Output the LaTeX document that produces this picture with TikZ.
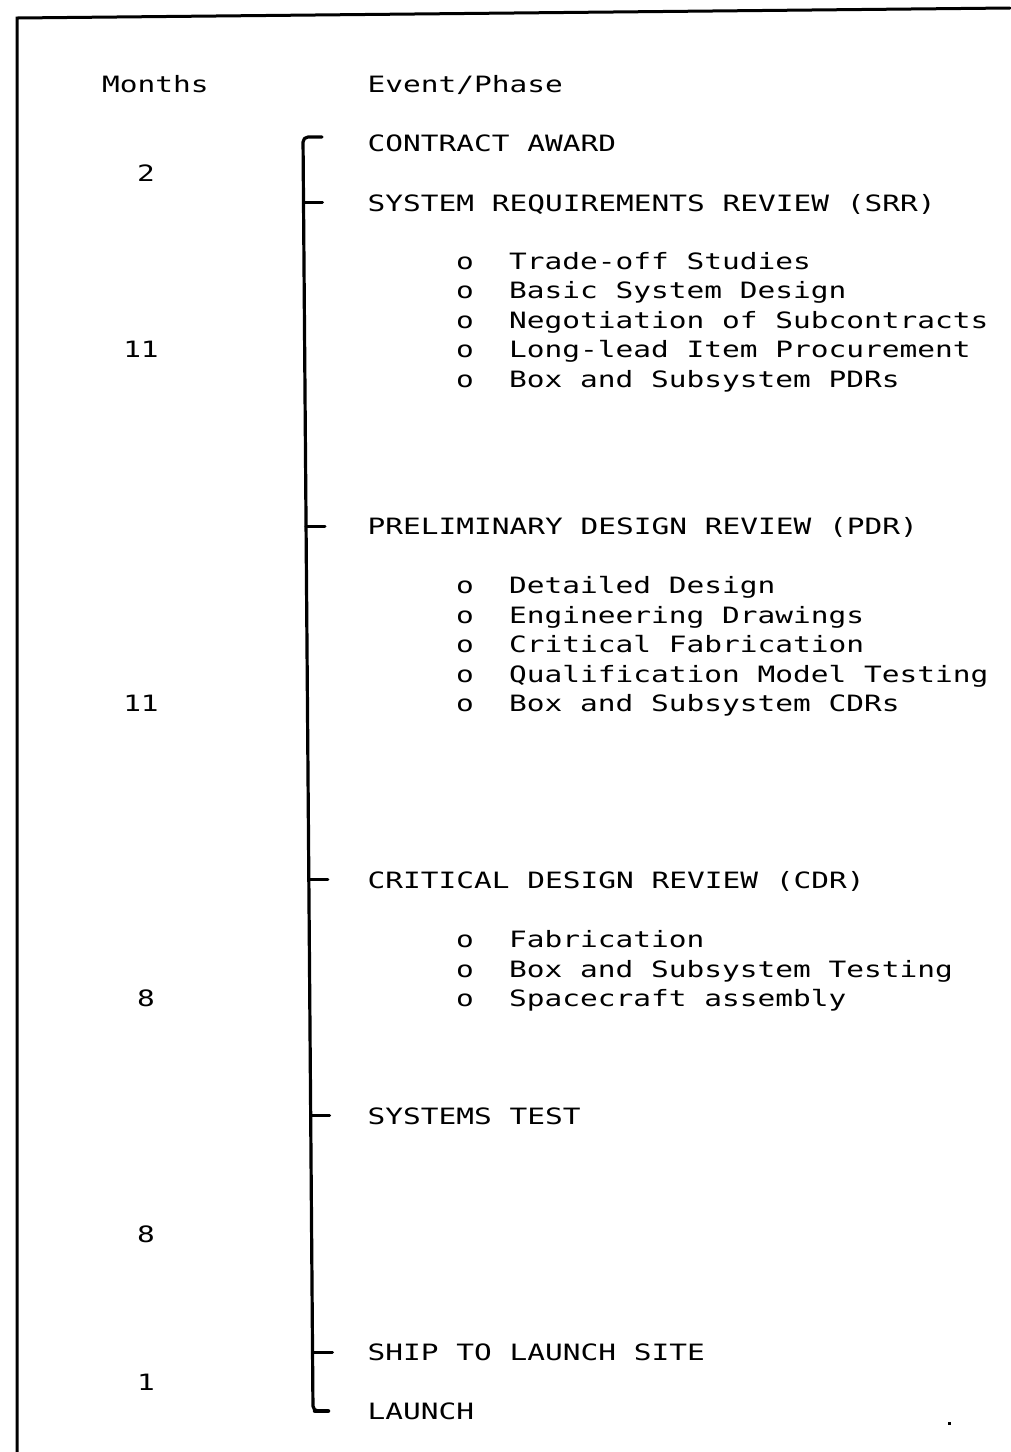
\documentclass[tikz,border=0pt]{standalone}
\usepackage{fontspec}
\newfontfamily\pl[FakeStretch=1.31]{DejaVu Sans Mono}
\begin{document}
\begin{tikzpicture}[x=1pt,y=-1pt,
  txt/.style={anchor=base west,inner sep=0pt,font=\pl\fontsize{22.5}{26}\selectfont},
  num/.style={anchor=base,inner sep=0pt,font=\pl\fontsize{22.5}{26}\selectfont},
  frame/.style={line width=3pt,line cap=round},
  tl/.style={line width=3.2pt,line cap=round,line join=round},
  tick/.style={line width=3pt,line cap=round}]
\path[use as bounding box] (0,0) rectangle (1010,1452);
% frame
\coordinate (fTL) at (17,18);
\coordinate (fTR) at (1010,8);
\coordinate (fBL) at (17,1452);
\draw[frame] (fBL) -- (fTL) -- (fTR);
% headers
\node[txt] (hMonths) at (102,92) {Months};
\node[txt] (hEvent) at (367.5,92) {Event/Phase};
% events  (baseline = 92 + 29.5 n)
\node[txt] (eCA)  at (367.5,151)  {CONTRACT AWARD};
\node[txt] (eSRR) at (367.5,211)  {SYSTEM REQUIREMENTS REVIEW (SRR)};
\node[txt] (ePDR) at (367.5,534.5){PRELIMINARY DESIGN REVIEW (PDR)};
\node[txt] (eCDR) at (367.5,888.5){CRITICAL DESIGN REVIEW (CDR)};
\node[txt] (eST)  at (367.5,1124.5){SYSTEMS TEST};
\node[txt] (eSH)  at (367.5,1360.5){SHIP TO LAUNCH SITE};
\node[txt] (eLA)  at (367.5,1419.5){LAUNCH};
% bullets SRR phase
\foreach \n/\t [count=\i] in {6/Trade-off Studies,7/Basic System Design,8/Negotiation of Subcontracts,9/Long-lead Item Procurement,10/Box and Subsystem PDRs}{
  \node[txt] (bA\i) at (456,92+29.5*\n) {o};
  \node[txt] (sA\i) at (509,92+29.5*\n) {\t};
}
\foreach \n/\t [count=\i] in {17/Detailed Design,18/Engineering Drawings,19/Critical Fabrication,20/Qualification Model Testing,21/Box and Subsystem CDRs}{
  \node[txt] (bB\i) at (456,92+29.5*\n) {o};
  \node[txt] (sB\i) at (509,92+29.5*\n) {\t};
}
\foreach \n/\t [count=\i] in {29/Fabrication,30/Box and Subsystem Testing,31/Spacecraft assembly}{
  \node[txt] (bC\i) at (456,92+29.5*\n) {o};
  \node[txt] (sC\i) at (509,92+29.5*\n) {\t};
}
% months
\node[num] (m1) at (146,181) {2};
\node[num] (m2) at (141,357.5) {11};
\node[num] (m3) at (141,711.5) {11};
\node[num] (m4) at (146,1006.5) {8};
\node[num] (m5) at (146,1242.5) {8};
\node[num] (m6) at (146,1390) {1};
% timeline
\coordinate (tTop) at (322,137);
\coordinate (tBot) at (328,1411);
\draw[tl,rounded corners=5pt] (tTop) -- (303,137) -- (313,1411) -- (tBot);
\draw[line width=4.5pt,line cap=round] (315,1411) -- (tBot);
\coordinate (k1) at (303.5,202);
\coordinate (k2) at (306,526);
\coordinate (k3) at (308.8,879);
\coordinate (k4) at (310.7,1115);
\coordinate (k5) at (312.5,1352);
\draw[tick] (k1) -- ++(19,0);
\draw[tick] (k2) -- ++(19,0);
\draw[tick] (k3) -- ++(19,0);
\draw[tick] (k4) -- ++(19,0);
\draw[tick] (k5) -- ++(20,0);
% speck
\fill (947.5,1421.5) rectangle (950.5,1424.5);
\end{tikzpicture}
\end{document}
